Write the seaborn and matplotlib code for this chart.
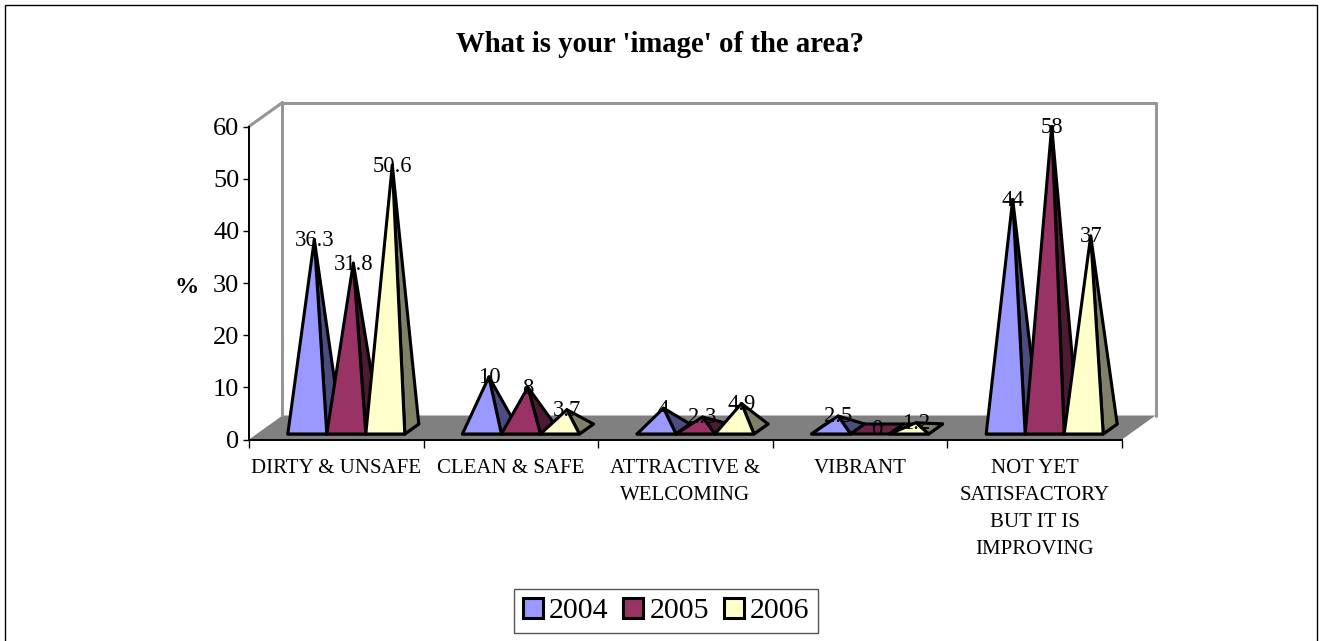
# image of the area: 3D-looking pyramid chart built on a seaborn barplot
import pandas as pd
import matplotlib.pyplot as plt
from matplotlib.patches import Patch, Polygon, Rectangle
import seaborn as sns

categories = ['DIRTY & UNSAFE', 'CLEAN & SAFE', 'ATTRACTIVE &\nWELCOMING', 'VIBRANT',
              'NOT YET\nSATISFACTORY\nBUT IT IS\nIMPROVING']
years = ['2004', '2005', '2006']
values_2004 = [36.3, 10, 4, 2.5, 44]
values_2005 = [31.8, 8, 2.3, 0, 58]
values_2006 = [50.6, 3.7, 4.9, 1.2, 37]
value_labels = [['36.3', '10', '4', '2.5', '44'],
                ['31.8', '8', '2.3', '0', '58'],
                ['50.6', '3.7', '4.9', '1.2', '37']]
yticks = [0, 10, 20, 30, 40, 50, 60]

front_colors = ['#9999FF', '#993366', '#FFFFCC']
side_colors = ['#4C4C80', '#4D1A33', '#808066']
base_colors = ['#5C5C99', '#6B2447', '#999980']

W, H = 1321, 641
sns.set_style('white')
plt.rcParams['font.family'] = ['Liberation Serif', 'DejaVu Serif']
plt.rcParams['text.color'] = 'black'
plt.rcParams['xtick.labelcolor'] = 'black'
plt.rcParams['ytick.labelcolor'] = 'black'

df = pd.DataFrame({
    'category': categories * 3,
    'year': [y for y in years for _ in categories],
    'value': values_2004 + values_2005 + values_2006,
})

fig = plt.figure(figsize=(W / 100, H / 100), dpi=100)
ax = fig.add_axes([249 / W, 1 - 439.5 / H, 873 / W, 313 / H])

sns.barplot(data=df, x='category', y='value', hue='year', palette=front_colors,
            width=0.67, gap=0, saturation=1, legend=False, ax=ax)
ax.set_xlim(-0.5, 4.5)
ax.set_ylim(0, 60)

# pixels to data units, depth of walls and of the pyramids
px_x = 5 / 873
px_y = 60 / 313
wall_dx, wall_dy = 33.5 * px_x, 24 * px_y
depth_dx, depth_dy = 14 * px_x, 10 * px_y
shift_x, shift_y = 10 * px_x, 5.5 * px_y

# floor and back walls
ax.add_patch(Polygon([(-0.5, 0), (-0.5 + wall_dx, wall_dy), (4.5 + wall_dx, wall_dy), (4.5, 0)],
                     closed=True, fc='#808080', ec='none', clip_on=False, zorder=1))
ax.plot([-0.5, -0.5 + wall_dx, -0.5 + wall_dx], [60, 60 + wall_dy, wall_dy], color='#969696',
        lw=2.2, clip_on=False, zorder=1)
ax.plot([-0.5 + wall_dx, 4.5 + wall_dx, 4.5 + wall_dx], [60 + wall_dy, 60 + wall_dy, wall_dy],
        color='#969696', lw=2.2, clip_on=False, zorder=1)

# pyramids, placed from the bars seaborn worked out
z = 3
for i, container in enumerate(ax.containers):
    for j, bar in enumerate(container):
        bar.set_visible(False)
        x0 = bar.get_x() + shift_x
        x1 = x0 + bar.get_width()
        v = bar.get_height()
        b = shift_y
        tip = ((x0 + x1 + depth_dx) / 2, v + b + depth_dy / 2)
        style = dict(closed=True, ec='black', lw=2.2, joinstyle='round', clip_on=False)
        ax.add_patch(Polygon([(x0, b), (x1, b), (x1 + depth_dx, b + depth_dy), (x0 + depth_dx, b + depth_dy)],
                             fc=base_colors[i], zorder=z, **style))
        # a zero value is just the flat base
        if v > 0:
            ax.add_patch(Polygon([(x1, b), (x1 + depth_dx, b + depth_dy), tip],
                                 fc=side_colors[i], zorder=z, **style))
            ax.add_patch(Polygon([(x0, b), (x1, b), tip], fc=front_colors[i], zorder=z, **style))
        z += 1
        ax.annotate(value_labels[i][j], xy=tip, xytext=(0, -0.7), textcoords='offset points',
                    ha='center', va='center', fontsize=16.3, color='black', zorder=50)

# axes lines and ticks
for side in ['top', 'right']:
    ax.spines[side].set_visible(False)
for side in ['left', 'bottom']:
    ax.spines[side].set_color('black')
    ax.spines[side].set_linewidth(1.4)
    ax.spines[side].set_zorder(2)
ax.set_xlabel('')
ax.set_ylabel('')
ax.set_yticks(yticks)
ax.tick_params(axis='y', left=True, length=4, width=1, color='black', labelsize=19, pad=3)
ax.set_xticks(range(len(categories)))
ax.set_xticklabels(categories, fontsize=15, linespacing=1.58)
ax.set_xticks([k - 0.5 for k in range(len(categories) + 1)], minor=True)
ax.tick_params(axis='x', which='major', bottom=False, pad=10.3)
ax.tick_params(axis='x', which='minor', bottom=True, length=6, width=1, color='black')

fig.text(660 / W, 1 - 45 / H, "What is your 'image' of the area?", ha='center', va='center',
         fontsize=20.7, fontweight='bold')
fig.text(187 / W, 1 - 287 / H, '%', ha='center', va='center', fontsize=17.5, fontweight='bold')

handles = [Patch(fc=c, ec='black', lw=2.2, label=y) for c, y in zip(front_colors, years)]
leg = fig.legend(handles=handles, loc='center', bbox_to_anchor=(666 / W, 1 - 611 / H), ncol=3,
                 fontsize=21.5, frameon=True, fancybox=False, edgecolor='#555555', framealpha=1,
                 handlelength=0.67, handleheight=0.67, handletextpad=0.2, columnspacing=0.5,
                 borderpad=0.3, borderaxespad=0)
leg.get_frame().set_linewidth(1)

# chart border, runs off the bottom of the image
fig.add_artist(Rectangle((5 / W, -0.05), 1312 / W, 1.05 - 5 / H, transform=fig.transFigure,
                         fill=False, ec='black', lw=1))

fig.savefig('out.png', dpi=100)
